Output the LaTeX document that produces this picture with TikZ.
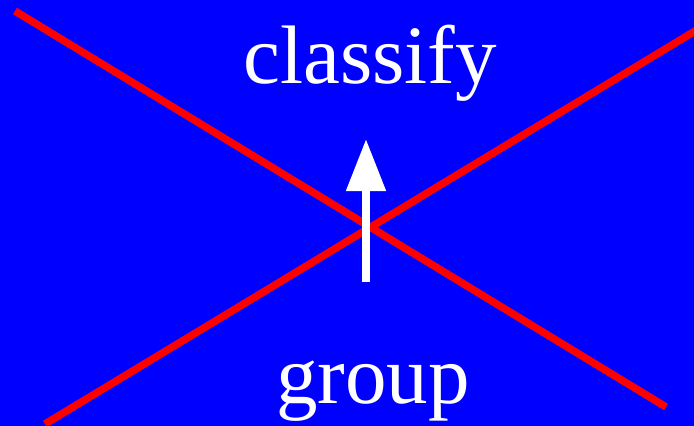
\documentclass[tikz,border=0pt]{standalone}
\usepackage{fontspec}
\setmainfont{Liberation Serif}
\usetikzlibrary{arrows.meta}
\begin{document}
\begin{tikzpicture}[x=1pt,y=-1pt,
  lbl/.style={text=white,inner sep=0pt,anchor=base,font=\fontsize{83}{90}\selectfont},
  cross/.style={draw=red,line width=7.5pt},
  upArrow/.style={draw=white,line width=8pt,-{Triangle[width=38pt,length=52pt]}}]
\path[fill=blue] (0,0) rectangle (694,426);
\useasboundingbox (0,0) rectangle (694,426);
\begin{scope}
\clip (0,0) rectangle (694,426);
\coordinate (a1) at (15,11);
\coordinate (a2) at (666,407);
\coordinate (b1) at (45,424);
\coordinate (b2) at (700,28);
\draw[cross] (a1) -- (a2);
\draw[cross] (b1) -- (b2);
\end{scope}
\node[lbl] (classify) at (370,83) {classify};
\node[lbl] (group) at (373,403) {group};
\coordinate (s) at (366,282);
\coordinate (t) at (366,139);
\draw[upArrow] (s) -- (t);
\end{tikzpicture}
\end{document}
